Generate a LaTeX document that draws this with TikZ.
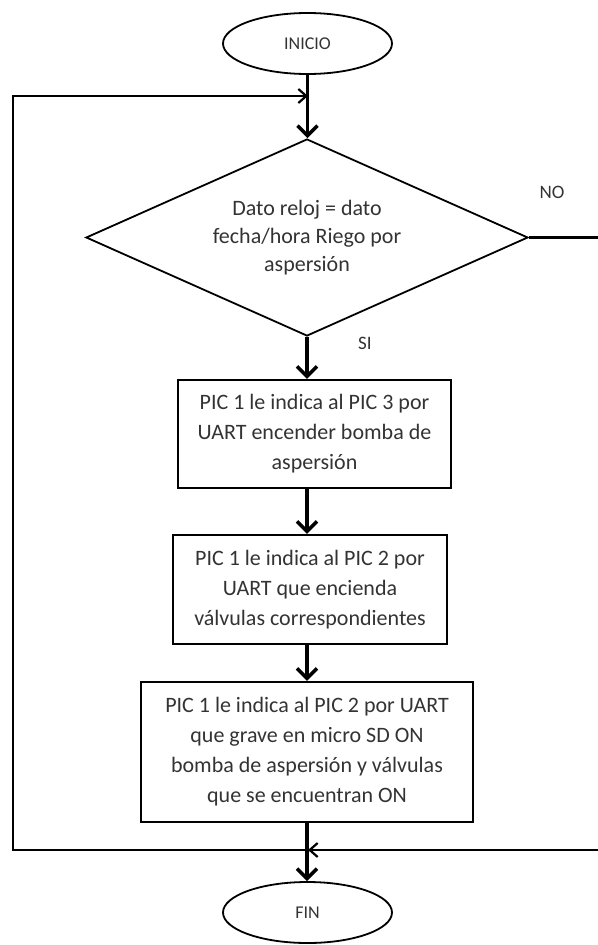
\documentclass[tikz,border=0pt]{standalone}
\usepackage{fontspec}
\setmainfont{Carlito}
\usetikzlibrary{shapes.geometric,arrows.meta,positioning,calc}

\tikzset{
  terminal/.style={ellipse, draw, line width=1.8pt, minimum width=169pt, minimum height=61pt, text=black!80, font=\fontsize{18}{22}\selectfont},
  proceso/.style={rectangle, draw, line width=2.2pt, align=center, inner sep=0pt, text=black!80, font=\fontsize{22}{30}\selectfont},
  decision/.style={diamond, draw, line width=1.8pt, aspect=2.24, minimum width=442pt, minimum height=197pt, align=center, inner sep=0pt, text=black!80, font=\fontsize{22}{28}\selectfont},
  flecha/.style={line width=3.5pt, -{Straight Barb[length=10pt,width=20pt]}},
  retorno/.style={line width=2.2pt, -{Straight Barb[length=8pt,width=14pt]}},
  etiqueta/.style={text=black!80, font=\fontsize{19}{22}\selectfont},
}

\begin{document}
\begin{tikzpicture}[x=1pt,y=1pt]
\useasboundingbox (0,0) rectangle (597,-945);
% start and end
\node[terminal] (inicio) at (307.5,-43.5) {INICIO};
\node[terminal] (fin) at (307.5,-912.5) {FIN};
% decision on the clock
\node[decision] (reloj) at (307,-237.5) {Dato reloj = dato\\fecha/hora Riego por\\aspersión};
% actions
\node[proceso, minimum width=273pt, minimum height=108pt] (bomba) at (314.5,-434)
  {PIC 1 le indica al PIC 3 por\\UART encender bomba de\\aspersión};
\node[proceso, minimum width=274pt, minimum height=109pt] (valvulas) at (310,-589.5)
  {PIC 1 le indica al PIC 2 por\\UART que encienda\\válvulas correspondientes};
\node[proceso, minimum width=332pt, minimum height=140pt] (grabar) at (307,-752)
  {PIC 1 le indica al PIC 2 por UART\\que grave en micro SD ON\\bomba de aspersión y válvulas\\que se encuentran ON};
% branch labels
\node[etiqueta] (si) at (365,-343) {SI};
\node[etiqueta] (no) at (552,-192) {NO};
% loop corners (right one lies just off the page)
\coordinate (entrada) at (308,-96);
\coordinate (union) at (308,-850);
\coordinate (derecha) at (601,-850);
\coordinate (izquierda) at (13,-96);
% NO branch back to the junction
\draw[retorno] (reloj.east) -| (derecha) -- (union);
% return to the start of the loop
\draw[retorno] (union) -| (izquierda) -- (entrada);
% main flow
\draw[flecha] (inicio.south) -- (inicio.south |- reloj.north);
\draw[flecha] (reloj.south) -- (reloj.south |- bomba.north);
\draw[flecha] (reloj.south |- bomba.south) -- (reloj.south |- valvulas.north);
\draw[flecha] (reloj.south |- valvulas.south) -- (reloj.south |- grabar.north);
\draw[flecha] (grabar.south) -- (grabar.south |- fin.north);
\end{tikzpicture}
\end{document}
